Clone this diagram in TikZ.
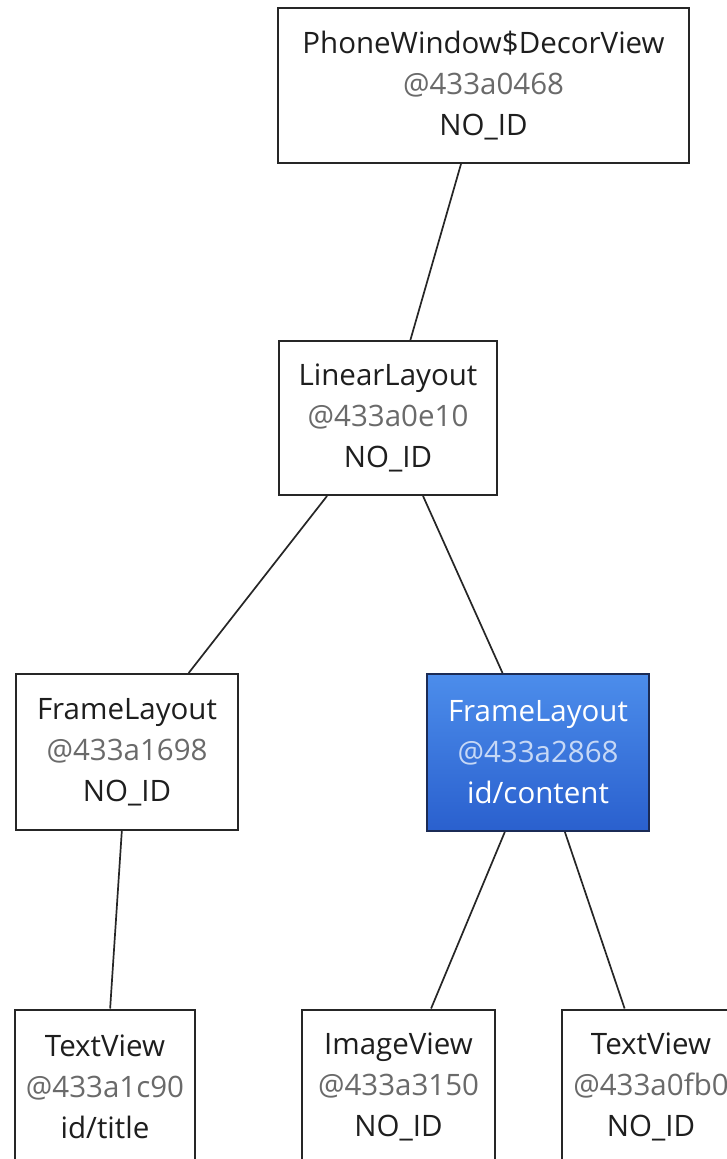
\documentclass[tikz,border=0pt]{standalone}
\usepackage{fontspec}
\setmainfont{Open Sans}
\definecolor{idgray}{HTML}{6A6A6A}
\definecolor{labelink}{HTML}{1E1E1E}
\definecolor{seltop}{HTML}{4C8DEB}
\definecolor{selbot}{HTML}{2A60CE}
\definecolor{selborder}{HTML}{1B2B55}
\definecolor{selgray}{HTML}{C6D8F6}
\begin{document}
\begin{tikzpicture}[x=1pt,y=-1pt,
  viewbox/.style={draw=black!85, line width=2pt, fill=white, align=center,
    inner sep=0pt, text=labelink, font=\fontsize{29.5}{41}\selectfont},
  selbox/.style={viewbox, draw=selborder, top color=seltop, bottom color=selbot,
    text=white},
  link/.style={draw=black!85, line width=1.7pt}]
\useasboundingbox (0,0) rectangle (727,1159);
\clip (0,0) rectangle (727,1159);
\fill[white] (0,0) rectangle (727,1159);

% view hierarchy nodes
\node[viewbox, minimum width=411pt, minimum height=155pt] (decor) at (483.5,85.5)
  {PhoneWindow\$DecorView\\{\color{idgray}@433a0468}\\NO\_ID};
\node[viewbox, minimum width=218pt, minimum height=154pt] (linear) at (388,418)
  {LinearLayout\\{\color{idgray}@433a0e10}\\NO\_ID};
\node[viewbox, minimum width=222pt, minimum height=156pt] (frameA) at (127,752)
  {FrameLayout\\{\color{idgray}@433a1698}\\NO\_ID};
\node[selbox, minimum width=222pt, minimum height=157pt] (content) at (538,752.5)
  {FrameLayout\\{\color{selgray}@433a2868}\\id/content};
\node[viewbox, minimum width=180pt, minimum height=155pt] (title) at (105,1087)
  {TextView\\{\color{idgray}@433a1c90}\\id/title};
\node[viewbox, minimum width=193pt, minimum height=155pt] (image) at (398.5,1087)
  {ImageView\\{\color{idgray}@433a3150}\\NO\_ID};
\node[viewbox, minimum width=178pt, minimum height=155pt] (text) at (651,1087)
  {TextView\\{\color{idgray}@433a0fb0}\\NO\_ID};

% parent-child links
\draw[link] (decor) -- (linear);
\draw[link] (linear) -- (frameA);
\draw[link] (linear) -- (content);
\draw[link] (frameA) -- (title);
\draw[link] (content) -- (image);
\draw[link] (content) -- (text);
\end{tikzpicture}
\end{document}
